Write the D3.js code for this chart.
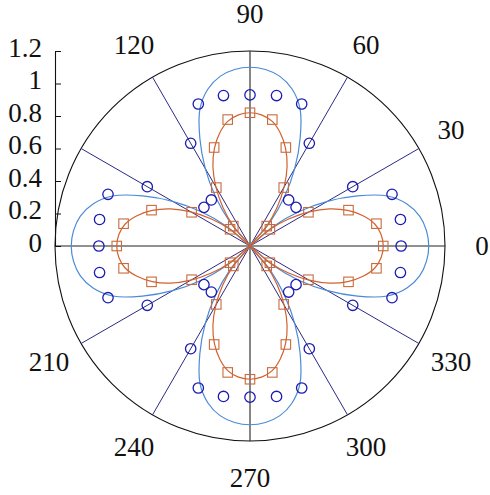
<!DOCTYPE html>
<html>
<head>
<meta charset="utf-8">
<script src="https://cdn.jsdelivr.net/npm/d3@7"></script>
<style>
  body { margin: 0; background: #fff; }
  svg { display: block; }
</style>
</head>
<body>
<svg id="chart" width="490" height="495"></svg>
<script>
// Angular labels shown around the rim (degrees)
const angleLabels = [0, 30, 60, 90, 120, 210, 240, 270, 300, 330];
// Blue radial grid spokes (degrees)
const spokeAngles = [30, 60, 120, 150, 210, 240, 300, 330];
// Radius axis ticks
const radialTicks = [0, 0.2, 0.4, 0.6, 0.8, 1, 1.2];

// Continuous curves sampled every 5 degrees
const curveAngles = [0,5,10,15,20,25,30,35,40,45,50,55,60,65,70,75,80,85,
  90,95,100,105,110,115,120,125,130,135,140,145,150,155,160,165,170,175,
  180,185,190,195,200,205,210,215,220,225,230,235,240,245,250,255,260,265,
  270,275,280,285,290,295,300,305,310,315,320,325,330,335,340,345,350,355];
const blueCurve = [1.10,1.09,1.06,1.00,0.90,0.73,0.55,0.37,0.19,0,0.19,0.37,0.55,0.73,0.90,1.00,1.06,1.09,
  1.10,1.09,1.06,1.00,0.90,0.73,0.55,0.37,0.19,0,0.19,0.37,0.55,0.73,0.90,1.00,1.06,1.09,
  1.10,1.09,1.06,1.00,0.90,0.73,0.55,0.37,0.19,0,0.19,0.37,0.55,0.73,0.90,1.00,1.06,1.09,
  1.10,1.09,1.06,1.00,0.90,0.73,0.55,0.37,0.19,0,0.19,0.37,0.55,0.73,0.90,1.00,1.06,1.09];
const orangeCurve = [0.82,0.81,0.78,0.72,0.64,0.54,0.42,0.29,0.16,0,0.16,0.29,0.42,0.54,0.64,0.72,0.78,0.81,
  0.82,0.81,0.78,0.72,0.64,0.54,0.42,0.29,0.16,0,0.16,0.29,0.42,0.54,0.64,0.72,0.78,0.81,
  0.82,0.81,0.78,0.72,0.64,0.54,0.42,0.29,0.16,0,0.16,0.29,0.42,0.54,0.64,0.72,0.78,0.81,
  0.82,0.81,0.78,0.72,0.64,0.54,0.42,0.29,0.16,0,0.16,0.29,0.42,0.54,0.64,0.72,0.78,0.81];

// Discrete samples every 10 degrees
const markerAngles = [0,10,20,30,40,50,60,70,80,90,100,110,120,130,140,150,160,170,
  180,190,200,210,220,230,240,250,260,270,280,290,300,310,320,330,340,350];
const circleValues = [0.93,0.94,0.93,0.73,0.37,0.37,0.73,0.93,0.94,
  0.93,0.94,0.93,0.73,0.37,0.37,0.73,0.93,0.94,
  0.93,0.94,0.93,0.73,0.37,0.37,0.73,0.93,0.94,
  0.93,0.94,0.93,0.73,0.37,0.37,0.73,0.93,0.94];
const squareValues = [0.82,0.79,0.645,0.415,0.16,0.16,0.415,0.645,0.79,
  0.82,0.79,0.645,0.415,0.16,0.16,0.415,0.645,0.79,
  0.82,0.79,0.645,0.415,0.16,0.16,0.415,0.645,0.79,
  0.82,0.79,0.645,0.415,0.16,0.16,0.415,0.645,0.79];

const cx = 250, cy = 246, R = 195, labelR = 232;
const fontFamily = "Liberation Serif";
const fontSize = 27;

const svg = d3.select("#chart");
const r = d3.scaleLinear().domain([0, 1.2]).range([0, R]);
// degrees counter-clockwise from east -> d3 radial angle (clockwise from north)
const ang = d3.scaleLinear().domain([0, 360]).range([Math.PI / 2, Math.PI / 2 - 2 * Math.PI]);
const px = (deg, v) => r(v) * Math.sin(ang(deg));
const py = (deg, v) => -r(v) * Math.cos(ang(deg));

const g = svg.append("g").attr("transform", `translate(${cx},${cy})`);

// outer circle
g.append("circle").attr("r", r(1.2)).attr("fill", "none")
  .attr("stroke", "#111").attr("stroke-width", 1.1);

// spokes
g.selectAll("line.spoke").data(spokeAngles).join("line")
  .attr("class", "spoke")
  .attr("x1", 0).attr("y1", 0)
  .attr("x2", d => px(d, 1.2)).attr("y2", d => py(d, 1.2))
  .attr("stroke", "#2a2a86").attr("stroke-width", 1);

// horizontal and vertical axes through the origin
g.append("line").attr("x1", px(180, 1.2)).attr("y1", 0).attr("x2", px(0, 1.2)).attr("y2", 0)
  .attr("stroke", "#222").attr("stroke-width", 1.1);
g.append("line").attr("x1", 0).attr("y1", py(90, 1.2)).attr("x2", 0).attr("y2", py(270, 1.2))
  .attr("stroke", "#222").attr("stroke-width", 1.1);

// curves
const curvePts = vals => curveAngles.map((a, i) => [ang(a), r(vals[i])]);
const radial = d3.lineRadial().curve(d3.curveCatmullRomClosed.alpha(0.5));
g.append("path").attr("d", radial(curvePts(blueCurve)))
  .attr("fill", "none").attr("stroke", "#4b8ad6").attr("stroke-width", 1.2);
g.append("path").attr("d", radial(curvePts(orangeCurve)))
  .attr("fill", "none").attr("stroke", "#d2622c").attr("stroke-width", 1.2);

// square markers
const sq = 9.5;
g.selectAll("rect.sq").data(markerAngles).join("rect")
  .attr("class", "sq")
  .attr("x", (d, i) => px(d, squareValues[i]) - sq / 2)
  .attr("y", (d, i) => py(d, squareValues[i]) - sq / 2)
  .attr("width", sq).attr("height", sq)
  .attr("fill", "none").attr("stroke", "#c96a3c").attr("stroke-width", 1.1);

// circle markers
g.selectAll("circle.pt").data(markerAngles).join("circle")
  .attr("class", "pt")
  .attr("cx", (d, i) => px(d, circleValues[i]))
  .attr("cy", (d, i) => py(d, circleValues[i]))
  .attr("r", 5.2)
  .attr("fill", "none").attr("stroke", "#1c1cb0").attr("stroke-width", 1.3);

// angular labels
g.selectAll("text.ang").data(angleLabels).join("text")
  .attr("class", "ang")
  .attr("x", d => labelR * Math.sin(ang(d)))
  .attr("y", d => -labelR * Math.cos(ang(d)))
  .attr("text-anchor", "middle")
  .attr("dominant-baseline", "central")
  .attr("font-family", fontFamily)
  .attr("font-size", fontSize)
  .attr("fill", "#111")
  .text(d => d);

// radius axis on the left
const yAxis = d3.scaleLinear().domain([0, 1.2]).range([cy, cy - R]);
const axis = svg.append("g").attr("transform", `translate(${cx - R},0)`)
  .call(d3.axisLeft(yAxis).tickValues(radialTicks)
    .tickFormat(d3.format("~g")).tickSizeInner(-6).tickSizeOuter(0).tickPadding(13));
axis.attr("font-family", fontFamily).attr("font-size", fontSize);
axis.select(".domain").attr("stroke", "#111").attr("stroke-width", 1.1);
axis.selectAll(".tick line").attr("stroke", "#111");
axis.selectAll(".tick text").attr("fill", "#111").attr("dy", "0.2em");
</script>
</body>
</html>
